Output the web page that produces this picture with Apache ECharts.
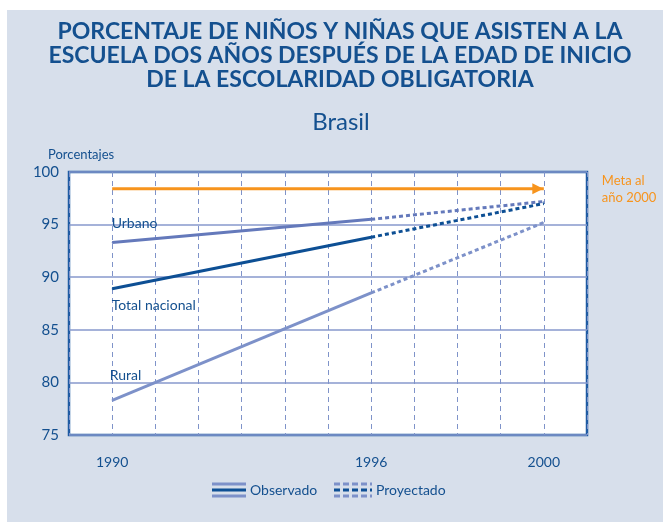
<!DOCTYPE html>
<html>
<head>
<meta charset="utf-8">
<script src="https://cdn.jsdelivr.net/npm/echarts@6/dist/echarts.min.js"></script>
<style>
  html, body { margin: 0; padding: 0; background: #ffffff; }
  #bg { position: absolute; left: 7px; top: 10px; width: 656px; height: 512px; background: #d7dfeb; }
  #chart { position: absolute; left: 0; top: 0; width: 663px; height: 522px; }
</style>
</head>
<body>
<div id="bg"></div>
<div id="chart"></div>
<script>
// datos
var years = [1990, 1996, 2000]
var tickLabels = ['1990', '1996', '2000']
var urbano = [93.3, 95.5, 97.2]
var total = [88.9, 93.8, 97.0]
var rural = [78.3, 88.5, 95.2]
var metaYears = [1990, 2000]
var meta = [98.4, 98.4]

var DARK = '#0d4f94'
var TEXT = '#14508f'
var LIGHT = '#7d91c9'
var MID = '#6479bb'
var ORANGE = '#f7941d'
var FONT = 'Lato'

// tramo observado (1990-1996) y proyectado (1996-2000)
function observed (vals) {
  return [[years[0], vals[0]], [years[1], vals[1]]]
}
function projected (vals) {
  return [[years[1], vals[1]], [years[2], vals[2]]]
}

function labeled (vals, name, pos) {
  var d = observed(vals)
  d[0] = {
    value: d[0],
    label: { show: true, formatter: name, position: pos, color: TEXT, fontSize: 14, fontFamily: FONT }
  }
  return d
}

function lineSeries (data, color, dashed) {
  return {
    type: 'line',
    data: data,
    symbol: 'circle',
    symbolSize: 1,
    showSymbol: true,
    itemStyle: { color: color },
    lineStyle: { color: color, width: 3, type: dashed ? [4, 3] : 'solid' },
    silent: true,
    z: 3
  }
}

var chart = echarts.init(document.getElementById('chart'))
chart.setOption({
  animation: false,
  title: [
    {
      text: 'PORCENTAJE DE NIÑOS Y NIÑAS QUE ASISTEN A LA\nESCUELA DOS AÑOS DESPUÉS DE LA EDAD DE INICIO\nDE LA ESCOLARIDAD OBLIGATORIA',
      left: 335,
      top: 15,
      textAlign: 'center',
      textStyle: { color: TEXT, fontSize: 23, fontWeight: 'bold', fontFamily: FONT, lineHeight: 24 }
    },
    {
      text: 'Brasil',
      left: 336,
      top: 105,
      textAlign: 'center',
      textStyle: { color: TEXT, fontSize: 24, fontWeight: 'normal', fontFamily: FONT }
    },
    {
      text: 'Porcentajes',
      left: 43,
      top: 143,
      textStyle: { color: TEXT, fontSize: 13, fontWeight: 'normal', fontFamily: FONT }
    }
  ],
  grid: {
    left: 69,
    right: 76,
    top: 172,
    bottom: 87,
    show: true,
    backgroundColor: '#ffffff',
    borderColor: '#1f5ba3',
    borderWidth: 2.5
  },
  xAxis: {
    type: 'value',
    min: 1989,
    max: 2001,
    interval: 1,
    axisLine: { show: false },
    axisTick: { show: false },
    axisLabel: {
      margin: 20,
      color: TEXT,
      fontSize: 14,
      fontFamily: FONT,
      formatter: function (v) {
        var i = years.indexOf(v)
        return i >= 0 ? tickLabels[i] : ''
      }
    },
    splitLine: { show: true, lineStyle: { color: '#7f93c9', width: 1, type: [5, 4] } }
  },
  yAxis: {
    type: 'value',
    min: 75,
    max: 100,
    interval: 5,
    axisLine: { show: false },
    axisTick: { show: false },
    axisLabel: { color: TEXT, fontSize: 15, fontFamily: FONT, margin: 10, padding: [10, 0, 0, 0] },
    splitLine: { show: true, lineStyle: { color: '#8799cc', width: 1.5 } }
  },
  series: [
    {
      type: 'line',
      data: [
        [metaYears[0], meta[0]],
        { value: [metaYears[1], meta[1]], symbol: 'triangle', symbolSize: [11, 11], symbolRotate: -90, symbolOffset: [-6, 0] }
      ],
      symbol: 'none',
      showSymbol: true,
      itemStyle: { color: ORANGE },
      lineStyle: { color: ORANGE, width: 3 },
      endLabel: {
        show: true,
        formatter: 'Meta al\naño 2000',
        color: ORANGE,
        fontSize: 13,
        fontFamily: FONT,
        lineHeight: 17,
        distance: 58
      },
      z: 4
    },
    lineSeries(labeled(urbano, 'Urbano', [0, -25]), MID, false),
    lineSeries(projected(urbano), MID, true),
    lineSeries(labeled(total, 'Total nacional', [0, 10]), DARK, false),
    lineSeries(projected(total), DARK, true),
    lineSeries(labeled(rural, 'Rural', [-2, -31]), LIGHT, false),
    lineSeries(projected(rural), LIGHT, true)
  ],
  graphic: [
    // leyenda
    { type: 'line', shape: { x1: 212, y1: 484, x2: 246, y2: 484 }, style: { stroke: LIGHT, lineWidth: 3 } },
    { type: 'line', shape: { x1: 212, y1: 490, x2: 246, y2: 490 }, style: { stroke: DARK, lineWidth: 3 } },
    { type: 'line', shape: { x1: 212, y1: 496, x2: 246, y2: 496 }, style: { stroke: LIGHT, lineWidth: 3 } },
    { type: 'text', left: 250, top: 483, style: { text: 'Observado', fill: TEXT, fontSize: 14, fontFamily: FONT } },
    { type: 'line', shape: { x1: 334, y1: 484, x2: 372, y2: 484 }, style: { stroke: LIGHT, lineWidth: 3, lineDash: [6, 3] } },
    { type: 'line', shape: { x1: 334, y1: 490, x2: 372, y2: 490 }, style: { stroke: DARK, lineWidth: 3, lineDash: [6, 3] } },
    { type: 'line', shape: { x1: 334, y1: 496, x2: 372, y2: 496 }, style: { stroke: LIGHT, lineWidth: 3, lineDash: [6, 3] } },
    { type: 'text', left: 376, top: 483, style: { text: 'Proyectado', fill: TEXT, fontSize: 14, fontFamily: FONT } }
  ]
})
</script>
</body>
</html>
